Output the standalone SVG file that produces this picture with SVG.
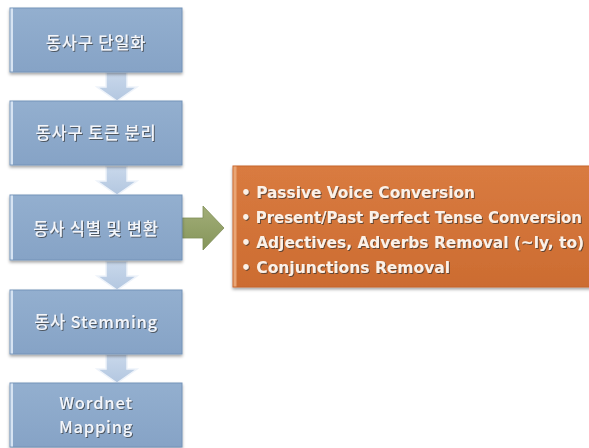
<svg xmlns="http://www.w3.org/2000/svg" width="589" height="448" viewBox="0 0 589 448">
<defs>
<linearGradient id="gBlue" x1="0" y1="0" x2="0" y2="1">
<stop offset="0" stop-color="#93afcf"/><stop offset="1" stop-color="#86a3c6"/>
</linearGradient>
<linearGradient id="gOrange" x1="0" y1="0" x2="0" y2="1">
<stop offset="0" stop-color="#d97b40"/><stop offset="1" stop-color="#cc6c31"/>
</linearGradient>
<linearGradient id="gDown" x1="0" y1="0" x2="0" y2="1">
<stop offset="0" stop-color="#c9d8eb"/><stop offset="1" stop-color="#b3c7e0"/>
</linearGradient>
<linearGradient id="gGreen" x1="0" y1="0" x2="0" y2="1">
<stop offset="0" stop-color="#a2ae78"/><stop offset="1" stop-color="#85955a"/>
</linearGradient>
<filter id="sh" x="-10%" y="-10%" width="120%" height="130%">
<feDropShadow dx="0" dy="2" stdDeviation="1.5" flood-color="#000" flood-opacity="0.35"/>
</filter>
<filter id="tsh" x="-10%" y="-30%" width="120%" height="160%">
<feDropShadow dx="1" dy="1" stdDeviation="0.6" flood-color="#333" flood-opacity="0.7"/>
</filter>
<path id="down" d="M106,0 H127 V15 H137 L117,29 L97,15 H106 Z"/>
</defs>
<style>
.box{fill:url(#gBlue);stroke:#7593b9;stroke-width:1;filter:url(#sh)}
.edge{fill:#d6e3f2}
.lbl{font-family:"Noto Sans CJK KR","Noto Sans",sans-serif;font-size:16.5px;font-weight:500;fill:#f4f6fa;text-anchor:middle;letter-spacing:0.8px;filter:url(#tsh)}
.dn{fill:url(#gDown);stroke:#eef3fa;stroke-width:1.5}
.ob{fill:url(#gOrange);stroke:#c5652d;stroke-width:1;filter:url(#sh)}
.ot{font-family:"DejaVu Sans",sans-serif;font-size:15px;font-weight:bold;fill:#fbf1e8;filter:url(#tsh)}
</style>
<rect width="589" height="448" fill="#ffffff"/>
<g id="connectors">
<use href="#down" class="dn" transform="translate(0,72)"/>
<use href="#down" class="dn" transform="translate(0,166)"/>
<use href="#down" class="dn" transform="translate(0,261)"/>
<use href="#down" class="dn" transform="translate(0,354)"/>
<polygon points="182,218 203,218 203,206 224,228 203,250 203,238 182,238" fill="url(#gGreen)" stroke="#7d8d55" stroke-width="0.8"/>
</g>
<g id="n1">
<rect class="box" x="10" y="8" width="172" height="64"/>
<rect class="edge" x="10.5" y="8.5" width="2.5" height="63"/>
<text class="lbl" x="96" y="49">동사구 단일화</text>
</g>
<g id="n2">
<rect class="box" x="10" y="101" width="172" height="64"/>
<rect class="edge" x="10.5" y="101.5" width="2.5" height="63"/>
<text class="lbl" x="96" y="139">동사구 토큰 분리</text>
</g>
<g id="n3">
<rect class="box" x="10" y="195" width="172" height="65"/>
<rect class="edge" x="10.5" y="195.5" width="2.5" height="64"/>
<text class="lbl" x="96" y="235">동사 식별 및 변환</text>
</g>
<g id="n4">
<rect class="box" x="10" y="290" width="172" height="64"/>
<rect class="edge" x="10.5" y="290.5" width="2.5" height="63"/>
<text class="lbl" x="96" y="328">동사 Stemming</text>
</g>
<g id="n5">
<rect class="box" x="10" y="383" width="172" height="64"/>
<rect class="edge" x="10.5" y="383.5" width="2.5" height="63"/>
<text class="lbl" x="96" y="409">Wordnet</text>
<text class="lbl" x="96" y="433">Mapping</text>
</g>
<g id="n6">
<rect class="ob" x="233" y="166" width="360" height="121"/>
<rect x="233.5" y="166.5" width="3" height="120" fill="#e9a575"/>
<text class="ot" x="241" y="198" textLength="234" lengthAdjust="spacingAndGlyphs">• Passive Voice Conversion</text>
<text class="ot" x="241" y="223" textLength="341" lengthAdjust="spacingAndGlyphs">• Present/Past Perfect Tense Conversion</text>
<text class="ot" x="241" y="248" textLength="343" lengthAdjust="spacingAndGlyphs">• Adjectives, Adverbs Removal (~ly, to)</text>
<text class="ot" x="241" y="273" textLength="209" lengthAdjust="spacingAndGlyphs">• Conjunctions Removal</text>
</g>
</svg>
